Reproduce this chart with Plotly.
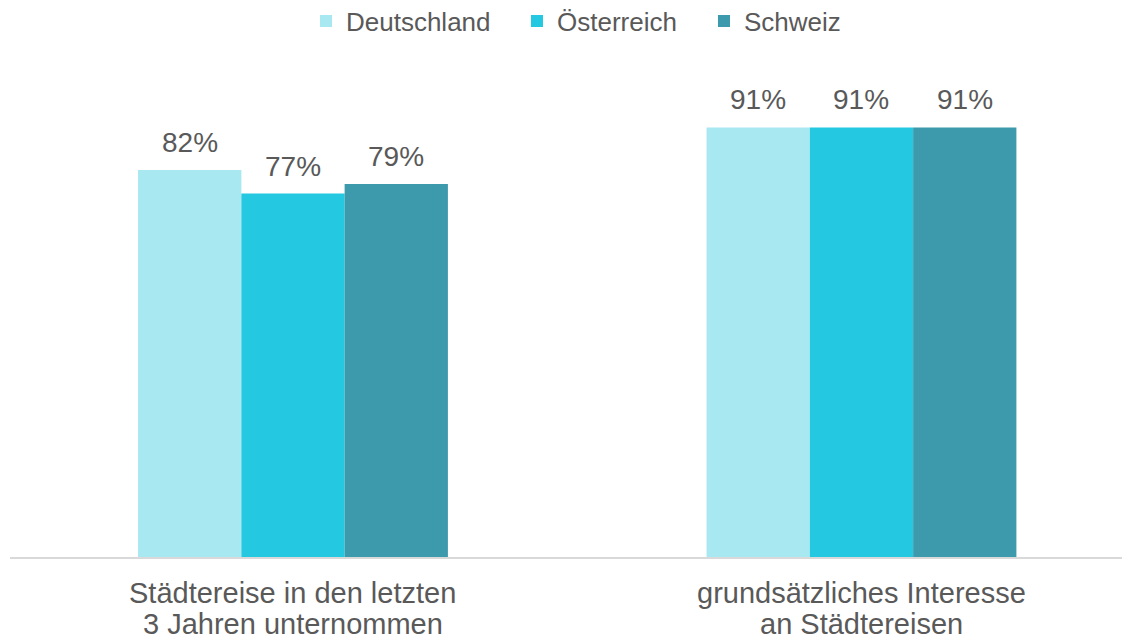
import plotly.graph_objects as go

categories = ["Städtereise in den letzten<br>3 Jahren unternommen",
              "grundsätzliches Interesse<br>an Städtereisen"]
series_names = ["Deutschland", "Österreich", "Schweiz"]
deutschland = [82, 91]
oesterreich = [77, 91]
schweiz = [79, 91]
colors = ["#A8E8F1", "#24C8E0", "#3D99AC"]
legend_widths = [166, 142, 100]

FONT = "Arial, Liberation Sans, sans-serif"
GRAY = "#595959"
BARGAP = 0.455
series = [deutschland, oesterreich, schweiz]
n = len(series)
bar_w = (1 - BARGAP) / n  # width of one bar in category units

fig = go.Figure()
for name, vals, col, lw in zip(series_names, series, colors, legend_widths):
    fig.add_trace(go.Bar(
        x=categories, y=vals, name=name,
        marker=dict(color=col, line=dict(width=0)),
        legendwidth=lw,
    ))

annotations = []
# value labels above each bar, positioned from the grouped-bar geometry
for i, vals in enumerate(series):
    for j, v in enumerate(vals):
        annotations.append(dict(
            x=j + (i - (n - 1) / 2) * bar_w, y=v, xref="x", yref="y",
            text=f"{v}%", showarrow=False, yanchor="bottom", yshift=10,
            font=dict(family=FONT, size=28, color=GRAY),
        ))
# category labels under the axis (tight line spacing like the original)
for j, cat in enumerate(categories):
    for k, line in enumerate(cat.split("<br>")):
        annotations.append(dict(
            x=j, y=0, xref="x", yref="paper", text=line, showarrow=False,
            yanchor="top", yshift=-18 - 31 * k,
            font=dict(family=FONT, size=29, color=GRAY),
        ))

fig.update_layout(
    width=1130, height=641,
    paper_bgcolor="white", plot_bgcolor="white",
    margin=dict(l=2, r=0, t=77, b=92, autoexpand=False),
    barmode="group", bargap=BARGAP, bargroupgap=0,
    font=dict(family=FONT, color=GRAY),
    legend=dict(orientation="h", x=0.2624, xanchor="left", y=1.1356, yanchor="middle",
                font=dict(family=FONT, size=26, color=GRAY), traceorder="normal"),
    xaxis=dict(range=[-0.4978, 1.4864], showline=True, linecolor="#D9D9D9", linewidth=1.5,
               ticks="", showgrid=False, zeroline=False, showticklabels=False),
    yaxis=dict(range=[0, 100], visible=False, showgrid=False, zeroline=False),
    annotations=annotations,
)

fig.write_html("out.html")
